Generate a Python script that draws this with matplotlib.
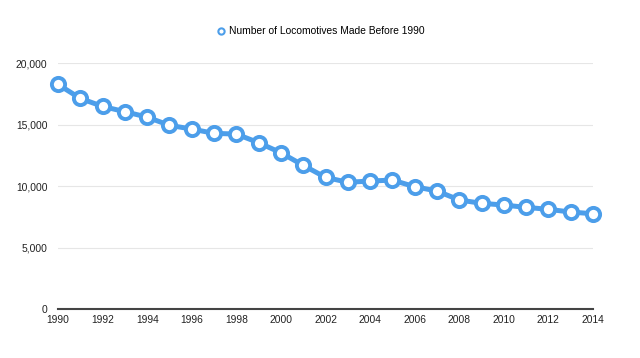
import matplotlib
matplotlib.use("Agg")
import matplotlib.pyplot as plt
from matplotlib.lines import Line2D
from matplotlib.ticker import FuncFormatter

years = list(range(1990, 2015))
locomotives = [18290, 17150, 16500, 16070, 15630, 14960, 14660, 14310, 14250, 13550,
               12730, 11710, 10730, 10330, 10430, 10510, 9970, 9620, 8890, 8620,
               8480, 8290, 8130, 7910, 7770]
series_name = "Number of Locomotives Made Before 1990"
x_ticks = list(range(1990, 2015, 2))
y_ticks = [0, 5000, 10000, 15000, 20000]

plt.rcParams['font.family'] = ['Liberation Sans', 'DejaVu Sans']
blue = "#4C9EEA"

fig = plt.figure(figsize=(6.4, 3.58), dpi=100)
ax = fig.add_axes([0.0906, 0.136, 0.836, 0.687])

ax.plot(years, locomotives, color=blue, lw=3.6, marker='o', ms=9.5,
        mfc='white', mec=blue, mew=2.8, clip_on=False, zorder=3)

ax.set_xlim(1990, 2014)
ax.set_ylim(0, 20000)
ax.set_xticks(x_ticks)
ax.set_yticks(y_ticks)
ax.yaxis.set_major_formatter(FuncFormatter(lambda v, p: f"{int(v):,}"))
ax.grid(axis='y', color='#e6e6e6', lw=0.8)
ax.set_axisbelow(True)
for s in ['top', 'right', 'left']:
    ax.spines[s].set_visible(False)
ax.spines['bottom'].set_color('#444444')
ax.spines['bottom'].set_linewidth(1.5)
ax.tick_params(axis='both', length=0, labelsize=7.4, colors='#222222')
ax.tick_params(axis='y', pad=7.5)
ax.tick_params(axis='x', pad=4)

handle = Line2D([], [], color=blue, lw=0, marker='o', ms=4.5, mfc='white', mec=blue, mew=1.5)
fig.legend([handle], [series_name], loc='center', bbox_to_anchor=(0.5, 0.913),
           frameon=False, fontsize=7.4, handletextpad=0.3, handlelength=1.0)

fig.savefig("out.png", dpi=100, facecolor='white')
